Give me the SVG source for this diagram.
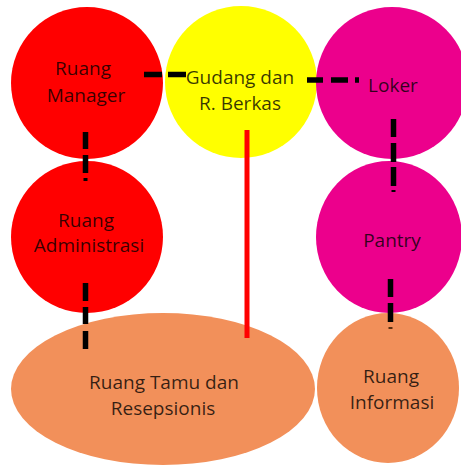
<svg xmlns="http://www.w3.org/2000/svg" width="461" height="468" viewBox="0 0 461 468">
<style>
text{font-family:"Open Sans","Liberation Sans",sans-serif;font-size:19px;text-anchor:middle;fill:#000;fill-opacity:.78}
.red{fill:#FF0000}
.yel{fill:#FFFF00}
.mag{fill:#EC008C}
.ora{fill:#F2905A}
.dash{stroke:#000;stroke-width:5.5;fill:none}
</style>
<rect width="461" height="468" fill="#fff"/>
<g id="ruang-manager"><circle class="red" cx="87" cy="83" r="76"/><text x="83" y="75">Ruang</text><text x="86" y="102">Manager</text></g>
<g id="gudang"><circle class="yel" cx="241" cy="82" r="76"/><text x="240" y="84">Gudang dan</text><text x="240" y="110">R. Berkas</text></g>
<g id="loker"><circle class="mag" cx="392" cy="83" r="76"/><text x="393" y="92">Loker</text></g>
<g id="ruang-administrasi"><circle class="red" cx="87" cy="237" r="76"/><text x="86" y="227">Ruang</text><text x="89" y="252">Administrasi</text></g>
<g id="pantry"><ellipse class="mag" cx="389" cy="237" rx="73" ry="76"/><text x="392" y="247">Pantry</text></g>
<g id="ruang-tamu"><ellipse class="ora" cx="163" cy="389" rx="152" ry="76"/><text x="164" y="389">Ruang Tamu dan</text><text x="163" y="415">Resepsionis</text></g>
<g id="ruang-informasi"><ellipse class="ora" cx="388" cy="388" rx="71" ry="75"/><text x="391" y="383">Ruang</text><text x="392" y="409">Informasi</text></g>
<g id="connectors">
<path class="dash" d="M144 74.5H162M168 74.5H186"/>
<path class="dash" d="M307 80H323M331 80H348M355 80H359"/>
<path class="dash" d="M85.5 132V149M85.5 155V173"/>
<path d="M85.5 178V181" stroke="#000" stroke-width="4"/>
<path class="dash" d="M85.5 283V301M85.5 307V324M85.5 331V349"/>
<path class="dash" d="M393.5 119V137M393.5 143V162M393.5 167V186"/>
<path d="M393.5 190V192" stroke="#000" stroke-width="4"/>
<path class="dash" d="M390.5 279V297M390.5 303V322"/>
<path d="M390.5 327V329" stroke="#5a3010" stroke-width="4"/>
<path d="M247 130V338" stroke="#FF0000" stroke-width="5"/>
</g>
</svg>
